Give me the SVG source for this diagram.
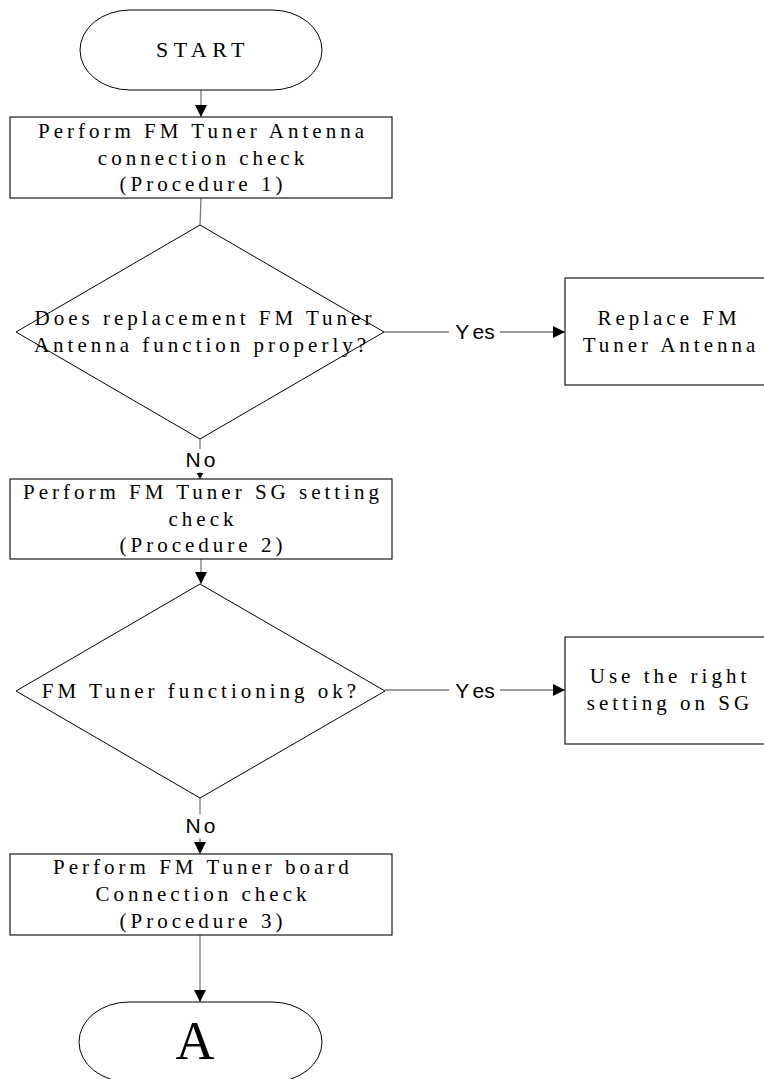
<svg xmlns="http://www.w3.org/2000/svg" width="764" height="1079" viewBox="0 0 764 1079">
<style>
.shape{fill:#fff;stroke:#000;stroke-width:1}
.box{fill:#fff;stroke:#1a1a1a;stroke-width:1.2}
.t{font-family:"Liberation Serif","Times New Roman",serif;font-size:21px;letter-spacing:4px;fill:#000;text-anchor:middle}
.lbl{font-family:"Liberation Sans",Arial,sans-serif;font-size:21px;fill:#000;text-anchor:middle}
.c{stroke:#7a7a7a;stroke-width:1.3;fill:none}
</style>
<defs>
<marker id="ah" markerUnits="userSpaceOnUse" markerWidth="13" markerHeight="12" refX="12" refY="6" orient="auto">
<path d="M0,0 L12,6 L0,12 Z" fill="#000"/>
</marker>
<marker id="ahs" markerUnits="userSpaceOnUse" markerWidth="8" markerHeight="8" refX="6" refY="3.5" orient="auto">
<path d="M0,0 L6,3.5 L0,7 Z" fill="#000"/>
</marker>
</defs>
<rect width="764" height="1079" fill="#fff"/>
<g id="connectors">
<line class="c" x1="201" y1="90" x2="201" y2="117" marker-end="url(#ah)"/>
<line class="c" x1="201" y1="198" x2="200" y2="225"/>
<line class="c" x1="200" y1="439" x2="200" y2="449"/>
<line class="c" x1="200" y1="472" x2="200" y2="479" marker-end="url(#ahs)"/>
<line class="c" x1="384" y1="332" x2="449" y2="332"/>
<line class="c" x1="500" y1="332" x2="565" y2="332" marker-end="url(#ah)"/>
<line class="c" x1="201" y1="559" x2="201" y2="584" marker-end="url(#ah)"/>
<line class="c" x1="385" y1="690" x2="449" y2="690"/>
<line class="c" x1="500" y1="690" x2="565" y2="690" marker-end="url(#ah)"/>
<line class="c" x1="200" y1="798" x2="200" y2="814"/>
<line class="c" x1="200" y1="838" x2="200" y2="854" marker-end="url(#ah)"/>
<line class="c" x1="200" y1="935" x2="200" y2="1002" marker-end="url(#ah)"/>
<text class="lbl" x="202" y="467" letter-spacing="3">No</text>
<text class="lbl" x="475" y="339">Y<tspan dx="5">es</tspan></text>
<text class="lbl" x="475" y="698">Y<tspan dx="5">es</tspan></text>
<text class="lbl" x="202" y="833" letter-spacing="3">No</text>
</g>
<g id="start">
<rect class="shape" x="80" y="10" width="242" height="80" rx="50" ry="40"/>
<text class="t" x="203" y="57" style="font-size:22px;letter-spacing:5.5px">START</text>
</g>
<g id="proc1">
<rect class="box" x="10" y="117" width="382" height="81"/>
<text class="t" x="203" y="138">Perform FM Tuner Antenna</text>
<text class="t" x="203" y="165">connection check</text>
<text class="t" x="203" y="191">(Procedure 1)</text>
</g>
<g id="dec1">
<polygon class="shape" points="200,225 384,332 200,439 16,332"/>
<text class="t" x="205" y="325">Does replacement FM Tuner</text>
<text class="t" x="202" y="352">Antenna function properly?</text>
</g>
<g id="replace">
<rect class="box" x="565" y="278" width="210" height="107"/>
<text class="t" x="669" y="325">Replace FM</text>
<text class="t" x="671" y="352">Tuner Antenna</text>
</g>
<g id="proc2">
<rect class="box" x="10" y="479" width="382" height="80"/>
<text class="t" x="203" y="499">Perform FM Tuner SG setting</text>
<text class="t" x="203" y="526">check</text>
<text class="t" x="203" y="552">(Procedure 2)</text>
</g>
<g id="dec2">
<polygon class="shape" points="200,584 385,691 200,798 16,691"/>
<text class="t" x="201" y="698">FM Tuner functioning ok?</text>
</g>
<g id="setting">
<rect class="box" x="565" y="637" width="210" height="107"/>
<text class="t" x="670" y="683">Use the right</text>
<text class="t" x="670" y="710">setting on SG</text>
</g>
<g id="proc3">
<rect class="box" x="10" y="854" width="382" height="81"/>
<text class="t" x="203" y="874">Perform FM Tuner board</text>
<text class="t" x="203" y="901">Connection check</text>
<text class="t" x="203" y="928">(Procedure 3)</text>
</g>
<g id="end">
<rect class="shape" x="79" y="1002" width="243" height="80" rx="50" ry="40"/>
<text class="t" x="195" y="1059" style="font-size:54px;letter-spacing:0">A</text>
</g>
</svg>
